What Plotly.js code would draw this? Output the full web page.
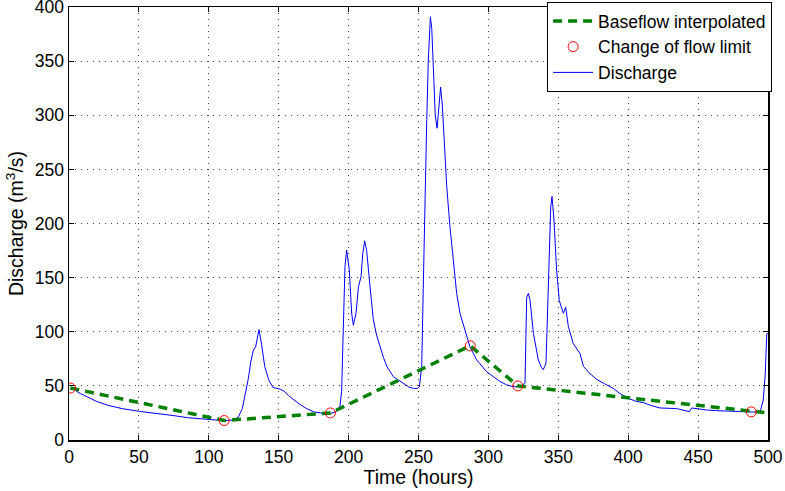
<!DOCTYPE html>
<html>
<head>
<meta charset="utf-8">
<script src="https://cdn.plot.ly/plotly-3.0.1.min.js"></script>
<style>html,body{margin:0;padding:0;background:#fff;}#chart{width:785px;height:491px;}</style>
</head>
<body>
<div id="chart"></div>
<script>
// Discharge time series (hours, m3/s)
const dischargeHours = [1,3,8,14,20,28,38,50,65,75,85,95,103,111,117,121,124,126,128.3,130,131.9,133.5,135.9,137.8,140,143,146,151,154,157,161,165,170,175,180,187,191,193.8,195,196.2,197.4,198.6,200.5,202.2,203.4,205.3,207,208.9,210.1,211.5,212.9,215.3,217.7,220,222.5,225,227.3,232,236,239.1,243,246.3,249,250.6,252.3,253.4,254.6,255.9,257,258.5,259.5,261,262,263.3,264.5,265.8,267,268,270.2,272.5,274.9,277.3,279.7,283.3,286.8,291.6,298.8,308.3,313,317.8,323.8,326.2,327.4,328.6,329.8,332.2,335.7,338,339.3,341.2,342.9,344.6,345.5,346.9,348.8,350.7,353.6,355.3,357.2,360.7,365.5,368,372,377.5,383,389.3,394,400.1,405,410.8,416,422.7,434.7,440,443.7,445.4,456.1,465,475.2,485,494.3,496.6,498,499.1,499.6];
const dischargeValues = [48,47,43,39,35.5,32,29,26.5,24.5,22.5,20.6,19.5,18.5,17.8,18.5,21,29,42,57,72,83,86,102,88,68,55,48.5,47,45,41,37,33,29,26,25,24.6,26,31,45,100,160,175.5,157,117,106,117,141,151,172,184,175,142,111,97,86,76,68,58.5,55,52,49,47.7,47.5,49,68,140,234,296,350,391,380,330,300,288,310,326,310,285,234,197,163,135.5,117,101.6,86,74,63,54,51,49.2,49.2,53,132,135.5,129,98.5,74,67,65,71,141.6,215.5,225,203,157,129,117,122.6,104.7,89,80,68,62,56,52,47.7,43,38.5,36,34.5,32,29.6,29,27.5,26.2,29.6,27.7,27,26.5,26,25.6,37,60,97,99];

// Baseflow interpolation nodes
const baseHours = [1,111,187,287,321,488,500];
const baseValues = [48,18,25,87,50,26,25];

// Change of flow limit points
const limitHours = [1,111,187,287,321,488];
const limitValues = [48,18,25,87,50,26];

const font = 'Liberation Sans, Arial, sans-serif';

const traces = [
  {x: dischargeHours, y: dischargeValues, mode: 'lines', name: 'Discharge',
   line: {color: '#0000ff', width: 1}, legendrank: 3},
  {x: baseHours, y: baseValues, mode: 'lines', name: 'Baseflow interpolated',
   line: {color: '#008000', width: 3.5, dash: '9px,6px'}, legendrank: 1},
  {x: limitHours, y: limitValues, mode: 'markers', name: 'Change of flow limit',
   marker: {symbol: 'circle-open', color: '#ff0000', size: 10, line: {width: 1, color: '#ff0000'}}, legendrank: 2}
];

const axisCommon = {
  showline: true, linecolor: '#000', linewidth: 1.5, mirror: 'ticks',
  ticks: 'inside', ticklen: 5, tickcolor: '#000', tickwidth: 1,
  showgrid: true, gridcolor: '#444', gridwidth: 1, griddash: '1px,5px',
  zeroline: false, ticklabeloverflow: 'allow', automargin: false,
  tickfont: {family: font, size: 17.5, color: '#000'}
};

const layout = {
  width: 785, height: 491,
  margin: {l: 69, r: 17, t: 7, b: 51, autoexpand: false},
  paper_bgcolor: '#fff', plot_bgcolor: '#fff',
  font: {family: font, color: '#000'},
  xaxis: Object.assign({}, axisCommon, {
    range: [0, 500], tick0: 0, dtick: 50,
    title: {text: 'Time (hours)', font: {family: font, size: 19.5, color: '#000'}, standoff: 2}
  }),
  yaxis: Object.assign({}, axisCommon, {
    range: [0, 400], tick0: 0, dtick: 50,
    title: {text: 'Discharge (m<sup>3</sup>/s)', font: {family: font, size: 19.5, color: '#000'}, standoff: 6}
  }),
  showlegend: true,
  legend: {
    x: 0.684, y: 1.0115, xanchor: 'left', yanchor: 'top',
    bgcolor: '#fff', bordercolor: '#000', borderwidth: 1,
    font: {family: font, size: 17.5, color: '#000'},
    tracegroupgap: 0, itemwidth: 40
  }
};

Plotly.newPlot('chart', traces, layout, {displayModeBar: false, staticPlot: true});
</script>
</body>
</html>
